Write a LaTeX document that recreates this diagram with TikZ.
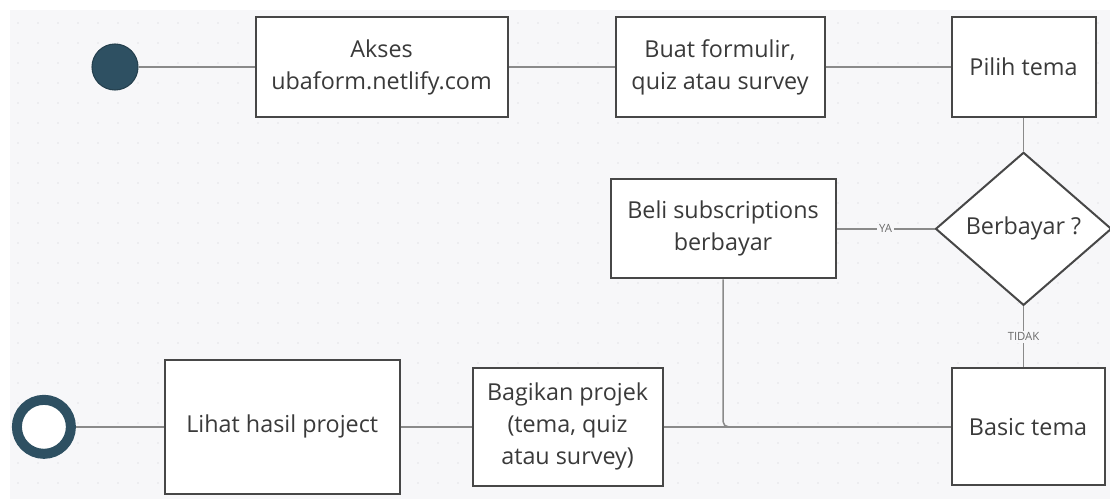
\documentclass[tikz,border=0pt]{standalone}
\usepackage{fontspec}
\setmainfont{Open Sans}
\usetikzlibrary{positioning,shapes.geometric}
\definecolor{latar}{HTML}{F7F7F9}
\definecolor{titik}{HTML}{CDCDD6}
\definecolor{abu}{HTML}{8A8A8A}
\definecolor{tepi}{HTML}{474747}
\definecolor{teks}{HTML}{3A3A3A}
\definecolor{biru}{HTML}{2E5062}
\tikzset{
    %Define style for boxes
    kotak/.style={
           rectangle,
           draw=tepi,
           line width=1.5pt,
           fill=white,
           text=teks,
           inner sep=0pt,
           align=center,
           font=\fontsize{17.5}{24}\selectfont},
    %Define style for the decision
    keputusan/.style={
           diamond,
           draw=tepi,
           line width=1.5pt,
           fill=white,
           text=teks,
           inner sep=0pt,
           minimum width=132pt,
           minimum height=114.75pt,
           font=\fontsize{17.5}{24}\selectfont},
    %Define start and end dots
    awal/.style={
           circle,
           draw=biru!80!black,
           fill=biru,
           line width=0.8pt,
           minimum size=34.5pt},
    akhir/.style={
           circle,
           draw=biru,
           fill=white,
           line width=7.5pt,
           minimum size=40.5pt},
    % Define connector style
    garis/.style={
           draw=abu,
           line width=1.1pt},
    % Define style for connector labels
    ket/.style={
           fill=latar,
           text=teks!75,
           inner sep=1.5pt,
           font=\fontsize{8.5}{10}\selectfont}
}
\begin{document}
\begin{tikzpicture}
  % background with dotted grid
  \useasboundingbox (0,0) rectangle (832.5pt,-374.25pt);
  \fill[white] (0,0) rectangle (832.5pt,-374.25pt);
  \fill[latar] (7.5pt,-7.5pt) rectangle (832.5pt,-374.25pt);
  \foreach \x in {0,...,54}
    \foreach \y in {0,...,23}
      \fill[titik] (13.5pt+15pt*\x,-17.25pt-15pt*\y) circle (0.55pt);

  % top row
  \node[awal] (mulai) at (86.25pt,-50.25pt) {};
  \node[kotak,minimum width=189pt,minimum height=75pt,right=87pt of mulai] (akses) {Akses\\ubaform.netlify.com};
  \node[kotak,minimum width=156.75pt,minimum height=75pt,right=79.5pt of akses] (buat) {Buat formulir,\\quiz atau survey};
  \node[kotak,minimum width=108pt,minimum height=75pt,right=93.75pt of buat] (pilih) {Pilih tema};

  % middle row
  \node[keputusan,below=25pt of pilih] (bayar) {Berbayar ?};
  \node[kotak,minimum width=168.75pt,minimum height=74.25pt,left=73.5pt of bayar] (beli) {Beli subscriptions\\berbayar};

  % bottom row
  \node[kotak,minimum width=114.75pt,minimum height=87.75pt,below=45.75pt of bayar,xshift=3.4pt] (basic) {Basic tema};
  \node[kotak,minimum width=142.5pt,minimum height=88.5pt,left=215.25pt of basic] (bagikan) {Bagikan projek\\(tema, quiz\\atau survey)};
  \node[kotak,minimum width=176pt,minimum height=101pt,left=53.25pt of bagikan] (lihat) {Lihat hasil project};
  \node[akhir,left=66pt of lihat] (selesai) {};

  % connectors
  \draw[garis] (mulai) -- (akses);
  \draw[garis] (akses) -- (buat);
  \draw[garis] (buat) -- (pilih);
  \draw[garis] (pilih) -- (bayar);
  \draw[garis] (beli) -- node[ket] {YA} (bayar);
  \draw[garis] (bayar.south) -- node[ket] {TIDAK} (bayar.south |- basic.north);
  \draw[garis,rounded corners=4pt] (beli) |- (basic);
  \draw[garis] (bagikan) -- (basic);
  \draw[garis] (lihat) -- (bagikan);
  \draw[garis] (selesai) -- (lihat);
\end{tikzpicture}
\end{document}
